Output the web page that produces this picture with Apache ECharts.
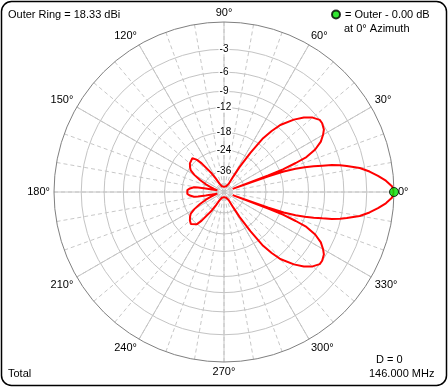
<!DOCTYPE html>
<html><head><meta charset="utf-8">
<script src="https://cdn.jsdelivr.net/npm/echarts@6/dist/echarts.min.js"></script>
<style>html,body{margin:0;padding:0;background:#fff}#c{width:448px;height:387px}</style>
</head><body><div id="c"></div>
<script>
// ring levels (dB) on the ARRL log scale
const ringDb = [-3, -6, -9, -12, -18, -24, -36];
// azimuth pattern: angle (deg) and gain relative to outer ring (dB)
const patternAngles = [0,2,4,6,8,10,12,13,14,15,16,17,18,19,19.5,20,20.5,21,22,23,25,27.5,30,32,35,37,40,43,46,50,52,54,56,58,59,60,70,90,110,118,120,121.5,123.5,125.5,128,130,133,136,140,144,147,150,153.5,157,160,163,166,168,169,170,171,174,177,180,
183,186,189,190,191,192,194,197,200,203,206.5,210,213,216,220,224,227,230,232,234.5,236.5,238.5,240,242,250,270,290,300,301,302,304,306,308,310,314,317,320,323,325,328,330,332.5,335,337,338,339,339.5,340,340.5,341,342,343,344,345,346,347,348,350,352,354,356,358,360];
const patternDb = [0,-0.2,-0.8,-1.6,-2.5,-3.6,-5.2,-6.1,-7.3,-8.8,-10.3,-12,-14,-17,-22,-50,-22,-17,-13.5,-11,-9,-7.6,-6.8,-6.3,-6.0,-6.0,-6.6,-7.6,-9.0,-11.4,-13.5,-16.1,-22,-30,-38,-50,-57,-60,-57,-50,-45,-41,-35,-31.5,-26.5,-24,-22.3,-22.4,-23,-24,-25,-27.5,-31.7,-37,-42,-48,-55,-45,-38,-32,-29.5,-27.5,-26.3,-26,
-26.3,-27.5,-29.5,-32,-38,-45,-55,-48,-42,-37,-31.7,-27.5,-25,-24,-23,-22.4,-22.3,-24,-26.5,-31.5,-35,-41,-45,-50,-57,-60,-57,-50,-38,-30,-22,-16.1,-13.5,-11.4,-9.0,-7.6,-6.6,-6.0,-6.0,-6.3,-6.8,-7.6,-9,-11,-13.5,-17,-22,-50,-22,-17,-14,-12,-10.3,-8.8,-7.3,-6.1,-5.2,-3.6,-2.5,-1.6,-0.8,-0.2,0];
const markerAngle = 0;
const markerDb = 0;

const FONT = "'Liberation Sans', Arial, sans-serif";
const toR = db => Math.pow(0.89, -db / 2);
const ringR = ringDb.map(toR);
const lineData = patternAngles.map((a, i) => [toR(patternDb[i]), a]);

const chart = echarts.init(document.getElementById('c'), null, {renderer: 'canvas'});
chart.setOption({
  backgroundColor: '#fff',
  animation: false,
  polar: [
    {center: [224, 192], radius: 170},
    {center: [224, 192], radius: 170}
  ],
  angleAxis: [
    {polarIndex: 0, type: 'value', min: 0, max: 360, interval: 30, startAngle: 0, clockwise: false, z: 1,
     axisLine: {show: true, lineStyle: {color: '#808080', width: 1}},
     axisTick: {show: false},
     axisLabel: {show: true, margin: 4, color: '#000', fontSize: 11, fontFamily: FONT, formatter: v => v + '°'},
     splitLine: {show: true, lineStyle: {color: '#c4c4c4', width: 1, type: 'solid'}}},
    {polarIndex: 1, type: 'value', min: 0, max: 360, interval: 10, startAngle: 90, clockwise: false, z: 0,
     axisLine: {show: false}, axisTick: {show: false}, axisLabel: {show: false},
     splitLine: {show: true, lineStyle: {color: '#c8c8c8', width: 1, type: [4, 3]}}}
  ],
  radiusAxis: [
    {polarIndex: 0, type: 'value', min: 0, max: 1, z: 1,
     axisLine: {show: false}, axisLabel: {show: false},
     axisTick: {show: false, customValues: ringR},
     splitLine: {show: true, lineStyle: {color: '#c4c4c4', width: 1}}},
    {polarIndex: 1, type: 'value', min: 0, max: 1, z: 3,
     axisLine: {show: false}, splitLine: {show: false},
     axisTick: {show: false, customValues: ringR},
     axisLabel: {show: true, customValues: ringR, margin: 0, align: 'center', verticalAlign: 'middle',
       color: '#000', fontSize: 10, fontFamily: FONT, backgroundColor: '#fff', padding: [0, 1],
       formatter: v => {
         let best = 0;
         ringR.forEach((r, i) => { if (Math.abs(r - v) < Math.abs(ringR[best] - v)) best = i; });
         return String(ringDb[best]);
       }}}
  ],
  legend: {
    left: 331, top: 9, itemWidth: 8, itemHeight: 8, icon: 'circle', padding: 0,
    textStyle: {color: '#000', fontSize: 11, fontFamily: FONT},
    data: ['= Outer - 0.00 dB']
  },
  series: [
    {type: 'line', name: 'Total', coordinateSystem: 'polar', polarIndex: 0, z: 5,
     showSymbol: false, symbol: 'none', smooth: false,
     lineStyle: {color: '#ff0000', width: 2}, itemStyle: {color: '#ff0000'},
     data: lineData},
    {type: 'scatter', name: '= Outer - 0.00 dB', coordinateSystem: 'polar', polarIndex: 0, z: 6,
     symbol: 'circle', symbolSize: 9,
     itemStyle: {color: '#00e000', borderColor: '#000', borderWidth: 1},
     data: [[toR(markerDb), markerAngle]]}
  ],
  graphic: [
    {type: 'rect', z: 100, shape: {x: 1.5, y: 1.5, width: 445, height: 384, r: 10},
     style: {fill: 'none', stroke: '#000', lineWidth: 1.5}},
    {type: 'text', z: 100, style: {x: 8, y: 15, text: 'Outer Ring = 18.33 dBi', font: '11px ' + FONT, fill: '#000', verticalAlign: 'middle', textVerticalAlign: 'middle'}},
    {type: 'text', z: 100, style: {x: 344, y: 29, text: 'at 0° Azimuth', font: '11px ' + FONT, fill: '#000', verticalAlign: 'middle', textVerticalAlign: 'middle'}},
    {type: 'text', z: 100, style: {x: 8, y: 374, text: 'Total', font: '11px ' + FONT, fill: '#000', verticalAlign: 'middle', textVerticalAlign: 'middle'}},
    {type: 'text', z: 100, style: {x: 376, y: 360, text: 'D = 0', font: '11px ' + FONT, fill: '#000', verticalAlign: 'middle', textVerticalAlign: 'middle'}},
    {type: 'text', z: 100, style: {x: 369, y: 374, text: '146.000 MHz', font: '11px ' + FONT, fill: '#000', verticalAlign: 'middle', textVerticalAlign: 'middle'}}
  ]
});
</script></body></html>
